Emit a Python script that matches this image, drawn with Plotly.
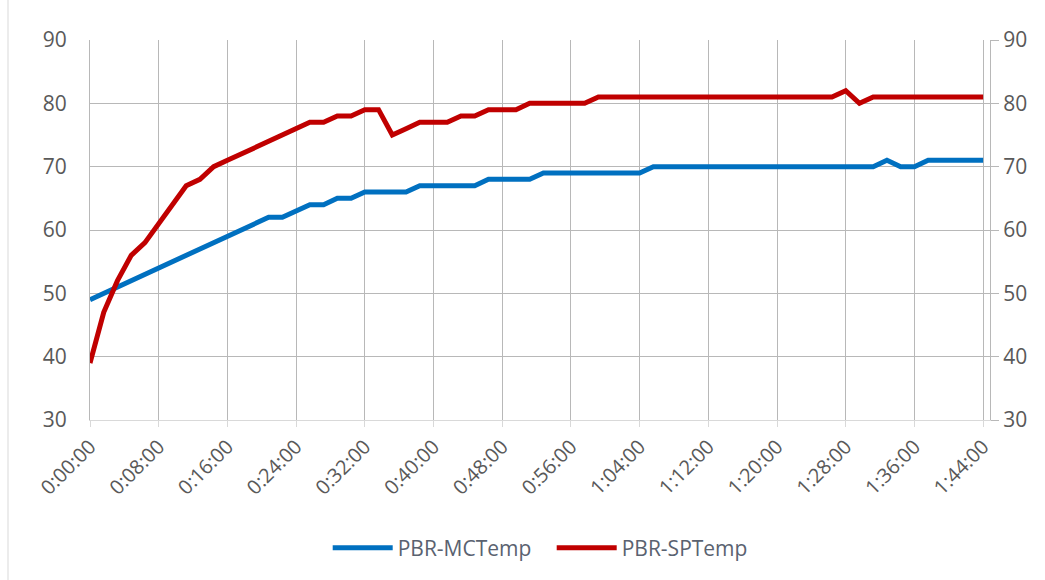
import plotly.graph_objects as go

# Sample interval (minutes) and sample times
step_min = 1.6
n_points = 66
minutes = [round(i * step_min, 2) for i in range(n_points)]

mc_temp = [
    49, 50, 51, 52, 53, 54, 55, 56, 57, 58, 59, 60, 61, 62, 62, 63, 64, 64, 65, 65,
    66, 66, 66, 66, 67, 67, 67, 67, 67, 68, 68, 68, 68, 69, 69, 69, 69, 69, 69, 69,
    69, 70, 70, 70, 70, 70, 70, 70, 70, 70, 70, 70, 70, 70, 70, 70, 70, 70, 71, 70,
    70, 71, 71, 71, 71, 71,
]
sp_temp = [
    39, 47, 52, 56, 58, 61, 64, 67, 68, 70, 71, 72, 73, 74, 75, 76, 77, 77, 78, 78,
    79, 79, 75, 76, 77, 77, 77, 78, 78, 79, 79, 79, 80, 80, 80, 80, 80, 81, 81, 81,
    81, 81, 81, 81, 81, 81, 81, 81, 81, 81, 81, 81, 81, 81, 81, 82, 80, 81, 81, 81,
    81, 81, 81, 81, 81, 81,
]

tick_minutes = list(range(0, 105, 8))
tick_labels = [f"{m // 60}:{m % 60:02d}:00" for m in tick_minutes]
y_ticks = [30, 40, 50, 60, 70, 80, 90]

FONT = "Open Sans"
TEXT_GREY = "#595959"
GRID = "#b8b8b8"

fig = go.Figure()
fig.add_trace(go.Scatter(
    x=minutes, y=mc_temp, mode="lines", name="PBR-MCTemp",
    line=dict(color="#0070c0", width=5),
))
fig.add_trace(go.Scatter(
    x=minutes, y=sp_temp, mode="lines", name="PBR-SPTemp",
    line=dict(color="#c00000", width=5),
))
# invisible trace to carry the secondary (right) axis
fig.add_trace(go.Scatter(
    x=[minutes[0]], y=[sp_temp[0]], yaxis="y2", mode="lines",
    line=dict(width=0), showlegend=False, hoverinfo="skip",
))

# faint chart-area frame edge on the left
fig.add_shape(type="line", xref="paper", yref="paper",
              x0=-0.0911, x1=-0.0911, y0=-0.43, y1=1.11,
              line=dict(color="#d9d9d9", width=1))

fig.update_layout(
    width=1045, height=580,
    margin=dict(l=90, r=55, t=40, b=160),
    paper_bgcolor="white", plot_bgcolor="white",
    font=dict(family=FONT, color=TEXT_GREY, size=19),
    xaxis=dict(
        range=[0, 104.8],
        tickvals=tick_minutes, ticktext=tick_labels, tickangle=-45,
        showgrid=True, gridcolor=GRID, gridwidth=1,
        zeroline=False,
        showline=True, linecolor="#d9d9d9", linewidth=1,
        ticks="outside", ticklen=6, tickcolor="#d9d9d9",
        tickfont=dict(size=20, color=TEXT_GREY),
    ),
    yaxis=dict(
        range=[30, 90], tickvals=y_ticks,
        showgrid=True, gridcolor=GRID, gridwidth=1,
        zeroline=False,
        showline=True, linecolor=GRID, linewidth=1,
        ticks="outside", ticklen=18, tickcolor="rgba(0,0,0,0)",
        tickfont=dict(size=21, color=TEXT_GREY),
    ),
    yaxis2=dict(
        range=[30, 90], tickvals=y_ticks,
        overlaying="y", side="right", anchor="x",
        showgrid=False, zeroline=False,
        showline=True, linecolor=GRID, linewidth=1,
        ticks="outside", ticklen=8, tickcolor=GRID,
        tickfont=dict(size=21, color=TEXT_GREY),
    ),
    legend=dict(
        orientation="h", x=0.513, xanchor="center", y=-0.337, yanchor="middle",
        font=dict(size=21, color="#5a6270"), itemwidth=60, entrywidth=149,
        bgcolor="rgba(0,0,0,0)",
    ),
    showlegend=True,
)

fig.write_html("out.html")
